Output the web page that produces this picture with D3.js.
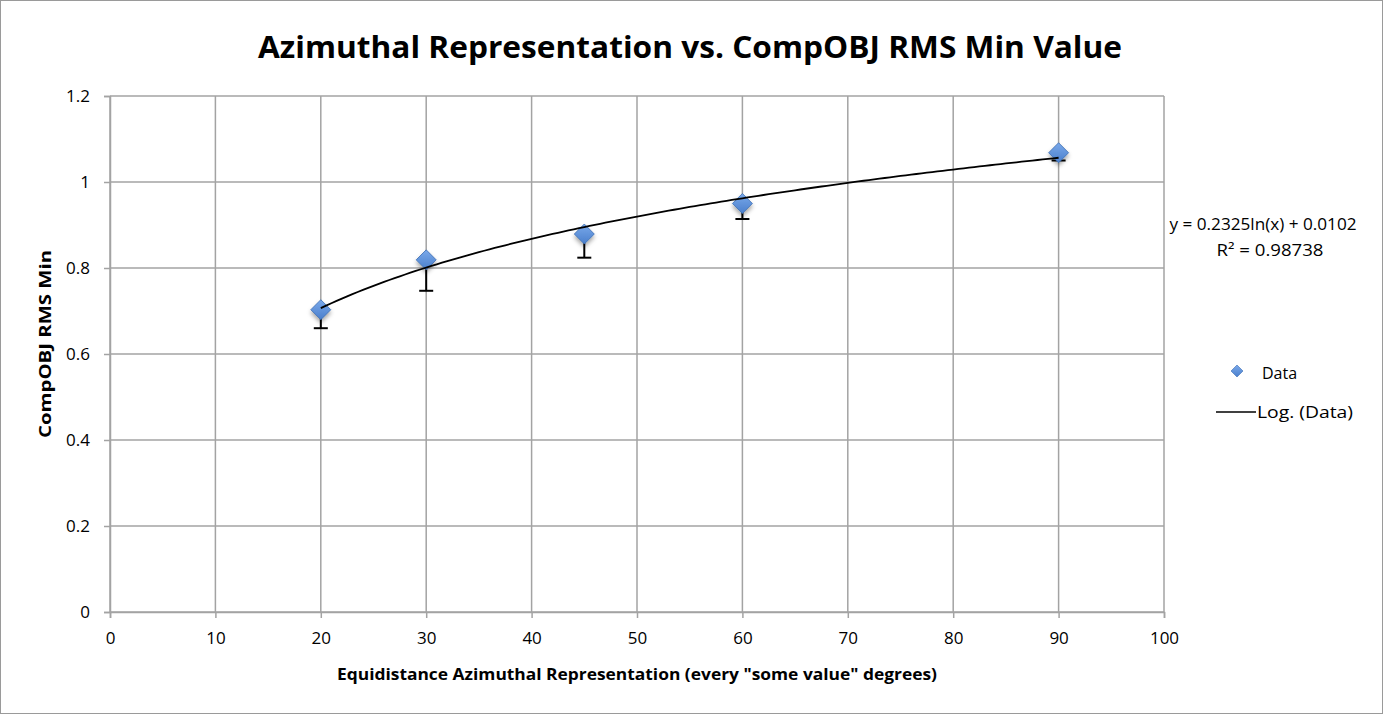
<!DOCTYPE html>
<html><head><meta charset="utf-8">
<script src="https://cdnjs.cloudflare.com/ajax/libs/d3/7.8.5/d3.min.js"></script>
<style>body{margin:0;background:#fff}svg{display:block}</style>
</head><body>
<script>
const xValues = [20, 30, 45, 60, 90];
const yValues = [0.703, 0.819, 0.879, 0.950, 1.068];
const minusErrors = [0.043, 0.072, 0.055, 0.036, 0.018];
const xTicks = [0,10,20,30,40,50,60,70,80,90,100];
const yTicks = [0,0.2,0.4,0.6,0.8,1,1.2];
const trendA = 0.2325, trendB = 0.0102;

const W=1383,H=714;
const svg=d3.select("body").append("svg").attr("width",W).attr("height",H);
const font="'Open Sans', 'DejaVu Sans', sans-serif";
svg.append("rect").attr("x",0.5).attr("y",0.5).attr("width",W-1).attr("height",H-1).attr("fill","#fff").attr("stroke","#9a9a9a");

const x=d3.scaleLinear().domain([0,100]).range([110,1164]);
const y=d3.scaleLinear().domain([0,1.2]).range([612,96]);
const grid="#a3a3a3";

// vertical gridlines + x ticks
const xa=svg.append("g").attr("transform","translate(0,612)")
 .call(d3.axisBottom(x).tickValues(xTicks).tickSize(6).tickFormat(d3.format("d")));
xa.select(".domain").attr("stroke",grid).attr("stroke-width",1.5);
xa.selectAll(".tick line").attr("stroke",grid).attr("stroke-width",1.5);
xa.selectAll("text").attr("font-family",font).attr("font-size",17).attr("fill","#000").attr("dy","1.35em");
svg.append("g").selectAll("line").data(xTicks).join("line")
 .attr("x1",d=>x(d)).attr("x2",d=>x(d)).attr("y1",y(1.2)).attr("y2",y(0))
 .attr("stroke",grid).attr("stroke-width",1.5);

const ya=svg.append("g").attr("transform","translate(110,0)")
 .call(d3.axisLeft(y).tickValues(yTicks).tickSize(6).tickFormat(d=>String(d)));
ya.select(".domain").attr("stroke",grid).attr("stroke-width",1.5);
ya.selectAll(".tick line").attr("stroke",grid).attr("stroke-width",1.5);
ya.selectAll("text").attr("font-family",font).attr("font-size",17).attr("fill","#000").attr("dx","-0.65em");
svg.append("g").selectAll("line").data(yTicks).join("line")
 .attr("x1",x(0)).attr("x2",x(100)).attr("y1",d=>y(d)).attr("y2",d=>y(d))
 .attr("stroke",grid).attr("stroke-width",1.5);

// error bars (minus only)
const eb=svg.append("g").attr("stroke","#000").attr("stroke-width",2);
xValues.forEach((xv,i)=>{
  const lo=yValues[i]-minusErrors[i];
  eb.append("line").attr("x1",x(xv)).attr("x2",x(xv)).attr("y1",y(yValues[i])).attr("y2",y(lo));
  eb.append("line").attr("x1",x(xv)-7).attr("x2",x(xv)+7).attr("y1",y(lo)).attr("y2",y(lo));
});

// gradient + shadow
const defs=svg.append("defs");
const g=defs.append("linearGradient").attr("id","dg").attr("x1","0").attr("y1","0").attr("x2","0").attr("y2","1");
g.append("stop").attr("offset","0").attr("stop-color","#7aa9ea");
g.append("stop").attr("offset","1").attr("stop-color","#4a7fcc");
const f=defs.append("filter").attr("id","sh").attr("x","-50%").attr("y","-50%").attr("width","200%").attr("height","200%");
f.append("feDropShadow").attr("dx",0).attr("dy",3).attr("stdDeviation",2).attr("flood-color","#000").attr("flood-opacity",0.35);

const dPath=r=>`M0,${-r}L${r},0L0,${r}L${-r},0Z`;

svg.append("g").selectAll("path").data(xValues).join("path")
 .attr("d",dPath(10)).attr("transform",(d,i)=>`translate(${x(d)},${y(yValues[i])})`)
 .attr("fill","url(#dg)").attr("stroke","#3b6db3").attr("stroke-width",0.8).attr("filter","url(#sh)");

// trendline
const tx=d3.range(20,90.01,0.5);
svg.append("path").datum(tx)
 .attr("d",d3.line().x(d=>x(d)).y(d=>y(trendA*Math.log(d)+trendB)))
 .attr("fill","none").attr("stroke","#000").attr("stroke-width",1.8);

// titles
svg.append("text").attr("x",690).attr("y",58).attr("text-anchor","middle")
 .attr("font-family",font).attr("font-weight","bold").attr("font-size",30)
 .attr("textLength",864).attr("lengthAdjust","spacingAndGlyphs")
 .text("Azimuthal Representation vs. CompOBJ RMS Min Value");
svg.append("text").attr("x",637).attr("y",680).attr("text-anchor","middle")
 .attr("font-family",font).attr("font-weight","bold").attr("font-size",16)
 .attr("textLength",600).attr("lengthAdjust","spacingAndGlyphs")
 .text('Equidistance Azimuthal Representation (every "some value" degrees)');
svg.append("text").attr("transform","translate(51,344) rotate(-90)").attr("text-anchor","middle")
 .attr("font-family",font).attr("font-weight","bold").attr("font-size",16)
 .attr("textLength",188).attr("lengthAdjust","spacingAndGlyphs")
 .text("CompOBJ RMS Min");

// equation
svg.append("text").attr("x",1263).attr("y",230).attr("text-anchor","middle")
 .attr("font-family",font).attr("font-size",16).attr("textLength",187).attr("lengthAdjust","spacingAndGlyphs")
 .text("y = 0.2325ln(x) + 0.0102");
svg.append("text").attr("x",1270).attr("y",256).attr("text-anchor","middle")
 .attr("font-family",font).attr("font-size",16).attr("textLength",107).attr("lengthAdjust","spacingAndGlyphs")
 .text("R² = 0.98738");

// legend
svg.append("path").attr("d",dPath(6)).attr("transform","translate(1237,371)")
 .attr("fill","url(#dg)").attr("stroke","#3b6db3").attr("stroke-width",0.6);
svg.append("text").attr("x",1262).attr("y",379).attr("font-family",font).attr("font-size",16).text("Data");
svg.append("line").attr("x1",1216).attr("x2",1256).attr("y1",412).attr("y2",412).attr("stroke","#000").attr("stroke-width",1.5);
svg.append("text").attr("x",1257).attr("y",418).attr("font-family",font).attr("font-size",16)
 .attr("textLength",96).attr("lengthAdjust","spacingAndGlyphs").text("Log. (Data)");
</script>
</body></html>
